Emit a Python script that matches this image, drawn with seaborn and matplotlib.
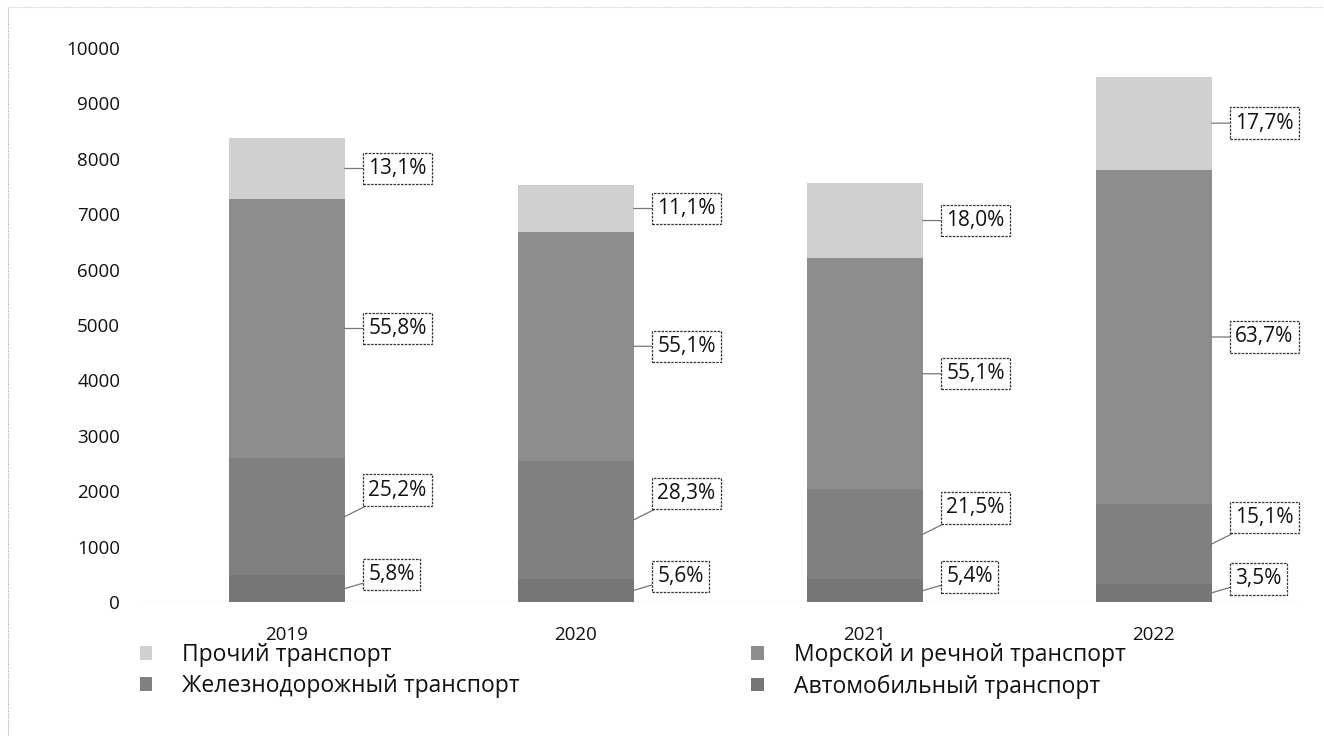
import matplotlib
matplotlib.use("Agg")
import matplotlib.pyplot as plt
import seaborn as sns
import pandas as pd
import numpy as np
from matplotlib.patches import Patch
from matplotlib.lines import Line2D

# ---- data ----
years = ["2019", "2020", "2021", "2022"]
auto = [486, 421, 409, 332]          # Автомобильный транспорт
rail = [2112, 2125, 1626, 1431]      # Железнодорожный транспорт
sea = [4676, 4138, 4168, 6039]       # Морской и речной транспорт
other = [1098, 834, 1362, 1678]      # Прочий транспорт
auto_lbl = ["5,8%", "5,6%", "5,4%", "3,5%"]
rail_lbl = ["25,2%", "28,3%", "21,5%", "15,1%"]
sea_lbl = ["55,8%", "55,1%", "55,1%", "63,7%"]
other_lbl = ["13,1%", "11,1%", "18,0%", "17,7%"]
yticks = [0, 1000, 2000, 3000, 4000, 5000, 6000, 7000, 8000, 9000, 10000]

names = ["Автомобильный транспорт", "Железнодорожный транспорт",
         "Морской и речной транспорт", "Прочий транспорт"]
colors = {"Автомобильный транспорт": "#767676",
          "Железнодорожный транспорт": "#808080",
          "Морской и речной транспорт": "#8d8d8d",
          "Прочий транспорт": "#d0d0d0"}

sns.set_theme(style="white")
plt.rcParams["font.family"] = ["Open Sans", "DejaVu Sans"]

df = pd.DataFrame({"year": years, "auto": auto, "rail": rail,
                   "sea": sea, "other": other})
df["c1"] = df["auto"]
df["c2"] = df["c1"] + df["rail"]
df["c3"] = df["c2"] + df["sea"]
df["c4"] = df["c3"] + df["other"]

fig = plt.figure(figsize=(13.24, 7.36), dpi=100)
ax = fig.add_axes([0.1076, 0.182, 0.873, 0.753])

bw = 0.40
for col, name in zip(["c4", "c3", "c2", "c1"], names[::-1]):
    sns.barplot(data=df, x="year", y=col, color=colors[name], width=bw,
                saturation=1, ax=ax, edgecolor="none", linewidth=0)

ax.set_xlim(-0.5, 3.5)
ax.set_ylim(0, 10000)
ax.set_yticks(yticks)
ax.set_yticklabels([str(t) for t in yticks], fontsize=13.5, color="#111")
ax.tick_params(axis="y", length=0, pad=16)
ax.tick_params(axis="x", length=0, pad=17, labelsize=13.5, labelcolor="#111")
ax.set_xlabel("")
ax.set_ylabel("")
for s in ax.spines.values():
    s.set_visible(False)
ax.axhline(0, color="#999", lw=1, ls=(0, (1, 2)), zorder=0)

# ---- callout labels ----
bbox = dict(boxstyle="square,pad=0.25", fc="white", ec="#333", lw=0.9,
            ls=(0, (2, 1)))
arrow = dict(arrowstyle="-", color="#777", lw=0.9, shrinkA=0, shrinkB=0)

def callout(i, y, text, dy):
    ax.annotate(text, xy=(i + bw / 2, y), xytext=(17, dy),
                textcoords="offset points", ha="left", va="center",
                fontsize=15, color="#111", bbox=bbox, arrowprops=arrow,
                zorder=5)

for i in range(len(years)):
    callout(i, df["c1"][i] / 2, auto_lbl[i], 10)
    callout(i, df["c1"][i] + rail[i] / 2, rail_lbl[i], 19)
    callout(i, df["c2"][i] + sea[i] / 2, sea_lbl[i], 0)
    callout(i, df["c3"][i] + other[i] / 2, other_lbl[i], 0)

# ---- legend ----
order = ["Прочий транспорт", "Железнодорожный транспорт",
         "Морской и речной транспорт", "Автомобильный транспорт"]
handles = [Patch(facecolor=colors[n], edgecolor="none") for n in order]
fig.legend(handles, order, loc="upper left",
           bbox_to_anchor=(0.097, 1 - 632 / 736), ncol=2, frameon=False,
           fontsize=16.5, handlelength=0.55, handleheight=0.55,
           handletextpad=1.3, columnspacing=10.1, labelspacing=0.3,
           borderpad=0, labelcolor="#111")

# faint dotted page border
fig.add_artist(Line2D([0.006, 0.006], [0, 0.99], transform=fig.transFigure,
                      color="#aaa", lw=0.8, ls=(0, (1, 1))))
fig.add_artist(Line2D([0.006, 1], [0.99, 0.99], transform=fig.transFigure,
                      color="#ccc", lw=0.8, ls=(0, (1, 1))))

fig.savefig("out.png", dpi=100)
